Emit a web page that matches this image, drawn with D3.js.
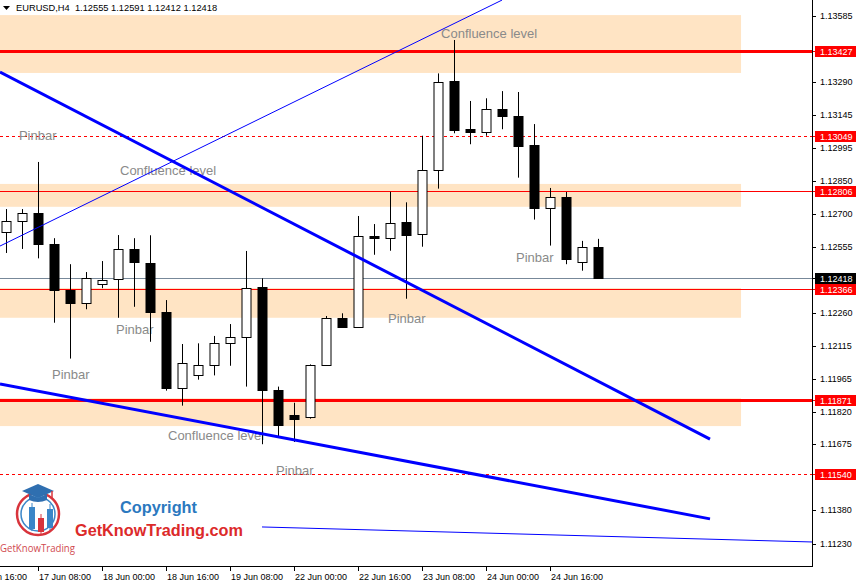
<!DOCTYPE html>
<html><head><meta charset="utf-8">
<script src="https://cdn.jsdelivr.net/npm/d3@7"></script>
<style>html,body{margin:0;padding:0;background:#fff;}svg{display:block;}</style>
</head><body>
<svg id="c" width="858" height="582"></svg>
<script>
// ---- data ----
const symbolInfo = "EURUSD,H4  1.12555 1.12591 1.12412 1.12418";
const opens  = [1.12622,1.12671,1.12708,1.12568,1.12363,1.12304,1.12388,1.12411,1.12545,1.12485,1.12266,1.11925,1.11982,1.12025,1.12125,1.12152,1.12375,1.11917,1.11805,1.11795,1.12028,1.12238,1.12199,1.12605,1.12594,1.12665,1.12611,1.12897,1.13295,1.13080,1.13066,1.13169,1.13139,1.13008,1.12727,1.12778,1.12487,1.12555];
const highs  = [1.12724,1.12724,1.12934,1.12594,1.12478,1.12443,1.12492,1.12608,1.12594,1.12607,1.12318,1.12122,1.12125,1.12158,1.12211,1.12537,1.12415,1.11932,1.11860,1.12031,1.12247,1.12259,1.12693,1.12657,1.12801,1.12754,1.13051,1.13329,1.13478,1.13206,1.13218,1.13250,1.13246,1.13103,1.12818,1.12800,1.12582,1.12591];
const lows   = [1.12528,1.12546,1.12504,1.12217,1.12057,1.12277,1.12371,1.12239,1.12288,1.12132,1.11914,1.11847,1.11963,1.11982,1.12025,1.11932,1.11675,1.11707,1.11685,1.11789,1.12025,1.12194,1.12194,1.12520,1.12538,1.12324,1.12556,1.12815,1.13062,1.13013,1.13051,1.13080,1.12864,1.12677,1.12561,1.12478,1.12449,1.12412];
const closes = [1.12671,1.12708,1.12571,1.12362,1.12304,1.12415,1.12406,1.12545,1.12485,1.12266,1.11929,1.12036,1.12028,1.12125,1.12152,1.12371,1.11914,1.11762,1.11789,1.12028,1.12237,1.12199,1.12604,1.12596,1.12660,1.12605,1.12897,1.13289,1.13078,1.13066,1.13169,1.13136,1.13007,1.12726,1.12776,1.12500,1.12553,1.12418];

const timeLabels = ["16 Jun 16:00","17 Jun 08:00","18 Jun 00:00","18 Jun 16:00","19 Jun 08:00","22 Jun 00:00","22 Jun 16:00","23 Jun 08:00","24 Jun 00:00","24 Jun 16:00"];
const timeLabelBars = [-2,2,6,10,14,18,22,26,30,34];

const priceTicks = [1.13585,1.13290,1.13145,1.12995,1.12850,1.12700,1.12555,1.12260,1.12115,1.11965,1.11820,1.11675,1.11380,1.11230];

// zones: [top price, bottom price]
const zoneTops    = [1.13589,1.12836,1.12372,1.11880];
const zoneBottoms = [1.13331,1.12734,1.12239,1.11756];
const zoneEndBar  = 45.94;

// horizontal levels
const levelPrices = [1.13427,1.13049,1.12806,1.12366,1.11871,1.11540];
const levelKinds  = ["thick","dash","thin","thin","thick","dash"];
const lastPrice = 1.12418;

// trend lines: [bar index, price] pairs
const trendStartBar   = [-0.375,-0.375,-0.375,16];
const trendStartPrice = [1.12559,1.13335,1.11944,1.11306];
const trendEndBar     = [31.0,44,44,50.375];
const trendEndPrice   = [1.13656,1.11698,1.11342,1.11239];
const trendKinds      = ["thin","thick","thick","thin"];

// annotations
const noteTexts  = ["Confluence level","Pinbar","Confluence level","Pinbar","Pinbar","Pinbar","Pinbar","Confluence level","Pinbar"];
const noteBars   = [27.19,0.81,7.125,31.875,6.875,23.875,2.875,10.125,16.875];
const notePrices = [1.13509,1.13050,1.12894,1.12510,1.12185,1.12238,1.11988,1.11716,1.11560];

// ---- layout ----
const W = 858, H = 582;
const plotR = 812, plotB = 566;
const x = d3.scaleLinear().domain([-0.375, 50.375]).range([0, plotR]);
const y = d3.scaleLinear().domain([1.11230, 1.13585]).range([544, 16]);
const fmt = d3.format(".5f");
const svg = d3.select("#c");
const font = "'Liberation Sans', Arial, sans-serif";

svg.append("defs").append("clipPath").attr("id","plot")
  .append("rect").attr("x",0).attr("y",0).attr("width",plotR).attr("height",plotB);
const g = svg.append("g").attr("clip-path","url(#plot)");

// zones
g.selectAll("rect.zone").data(zoneTops).join("rect")
  .attr("x", x(-0.375)).attr("width", x(zoneEndBar) - x(-0.375))
  .attr("y", (d)=>y(d)).attr("height", (d,i)=>y(zoneBottoms[i]) - y(d))
  .attr("fill", "#FFE4C4");

// levels
g.selectAll("line.lvl").data(levelPrices).join("line")
  .attr("x1", 0).attr("x2", plotR)
  .attr("y1", d=>Math.round(y(d))+0.5).attr("y2", d=>Math.round(y(d))+0.5)
  .attr("stroke", "#FF0000")
  .attr("stroke-width", (d,i)=>levelKinds[i]==="thick"?3:1)
  .attr("stroke-dasharray", (d,i)=>levelKinds[i]==="dash"?"3,3":null);

// last price line
g.append("line").attr("x1",0).attr("x2",plotR)
  .attr("y1", Math.round(y(lastPrice))+0.5).attr("y2", Math.round(y(lastPrice))+0.5)
  .attr("stroke","#778899").attr("stroke-width",1);

// annotations
g.selectAll("text.note").data(noteTexts).join("text")
  .attr("x",(d,i)=>x(noteBars[i])).attr("y",(d,i)=>y(notePrices[i]))
  .attr("dominant-baseline","central")
  .attr("font-family", font).attr("font-size", 13).attr("fill","#8a8a8a")
  .text(d=>d);

// candles
const bars = d3.range(opens.length);
const cw = 9;
g.selectAll("line.wick").data(bars).join("line")
  .attr("x1", i=>Math.round(x(i))+0.5).attr("x2", i=>Math.round(x(i))+0.5)
  .attr("y1", i=>y(highs[i])).attr("y2", i=>y(lows[i]))
  .attr("stroke","#000").attr("stroke-width",1);
g.selectAll("rect.body").data(bars).join("rect")
  .attr("x", i=>Math.round(x(i)) - 4 )
  .attr("width", cw)
  .attr("y", i=>Math.round(y(Math.max(opens[i],closes[i])))+0.5)
  .attr("height", i=>Math.max(1, Math.round(Math.abs(y(opens[i])-y(closes[i])))))
  .attr("fill", i=>closes[i]>=opens[i]?"#fff":"#000")
  .attr("stroke","#000").attr("stroke-width",1);

// trend lines
g.selectAll("line.trend").data(trendStartBar).join("line")
  .attr("x1",(d)=>x(d)).attr("y1",(d,i)=>y(trendStartPrice[i]))
  .attr("x2",(d,i)=>x(trendEndBar[i])).attr("y2",(d,i)=>y(trendEndPrice[i]))
  .attr("stroke","#0000FF").attr("stroke-width",(d,i)=>trendKinds[i]==="thick"?3:1);

// axes frame
svg.append("line").attr("x1",plotR+0.5).attr("x2",plotR+0.5).attr("y1",0).attr("y2",plotB+1).attr("stroke","#000");
svg.append("line").attr("x1",0).attr("x2",plotR+1).attr("y1",plotB+0.5).attr("y2",plotB+0.5).attr("stroke","#000");

// price axis
const yAx = svg.append("g");
yAx.selectAll("line").data(priceTicks).join("line")
  .attr("x1",plotR+1).attr("x2",plotR+4)
  .attr("y1",d=>Math.round(y(d))+0.5).attr("y2",d=>Math.round(y(d))+0.5).attr("stroke","#000");
yAx.selectAll("text").data(priceTicks).join("text")
  .attr("x",plotR+8).attr("y",d=>y(d)).attr("dominant-baseline","central")
  .attr("font-family",font).attr("font-size",9).attr("fill","#000").text(d=>fmt(d));

// level label boxes
const boxes = levelPrices.map((p,i)=>({p, fill:"#FF0000"})).concat([{p:lastPrice, fill:"#000"}]);
const bx = svg.append("g");
bx.selectAll("rect").data(boxes).join("rect")
  .attr("x",plotR+3).attr("width",41).attr("y",d=>Math.round(y(d.p))-5).attr("height",11)
  .attr("fill",d=>d.fill);
bx.selectAll("line").data(boxes).join("line")
  .attr("x1",plotR+1).attr("x2",plotR+3)
  .attr("y1",d=>Math.round(y(d.p))+0.5).attr("y2",d=>Math.round(y(d.p))+0.5).attr("stroke",d=>d.fill);
bx.selectAll("text").data(boxes).join("text")
  .attr("x",plotR+8).attr("y",d=>Math.round(y(d.p))+0.5).attr("dominant-baseline","central")
  .attr("font-family",font).attr("font-size",9).attr("fill","#fff").text(d=>fmt(d.p));

// time axis
const tx = svg.append("g");
tx.selectAll("line").data(timeLabelBars).join("line")
  .attr("x1",d=>Math.round(x(d))+0.5).attr("x2",d=>Math.round(x(d))+0.5)
  .attr("y1",plotB+1).attr("y2",plotB+5).attr("stroke","#000");
tx.selectAll("text").data(timeLabels).join("text")
  .attr("x",(d,i)=>x(timeLabelBars[i])+1).attr("y",577).attr("dominant-baseline","central")
  .attr("font-family",font).attr("font-size",9).attr("fill","#000").text(d=>d);

// header
svg.append("path").attr("d","M3,6 L10,6 L6.5,10 Z").attr("fill","#000");
svg.append("text").attr("x",16).attr("y",8).attr("dominant-baseline","central")
  .attr("font-family",font).attr("font-size",9.3).attr("fill","#000")
  .attr("xml:space","preserve").style("white-space","pre").text(symbolInfo);

// logo
const lg = svg.append("g");
lg.append("circle").attr("cx",38).attr("cy",514).attr("r",21).attr("fill","none").attr("stroke","#d8343c").attr("stroke-width",2.5);
lg.append("circle").attr("cx",38).attr("cy",514).attr("r",17).attr("fill","#fff").attr("stroke","#3a86c8").attr("stroke-width",1.5);
lg.append("path").attr("d","M22,491 L38,484 L54,491 L38,498 Z").attr("fill","#2f6fb0");
lg.append("path").attr("d","M29,494 L29,500 Q38,504 47,500 L47,494 L38,498 Z").attr("fill","#2f6fb0");
lg.append("line").attr("x1",52).attr("x2",52).attr("y1",491).attr("y2",499).attr("stroke","#d8343c").attr("stroke-width",1.5);
lg.append("line").attr("x1",32).attr("x2",32).attr("y1",503).attr("y2",531).attr("stroke","#3a86c8").attr("stroke-width",1);
lg.append("rect").attr("x",29).attr("y",507).attr("width",6).attr("height",22).attr("fill","#3a86c8");
lg.append("line").attr("x1",41).attr("x2",41).attr("y1",514).attr("y2",535).attr("stroke","#d8343c").attr("stroke-width",1);
lg.append("rect").attr("x",38).attr("y",518).attr("width",6).attr("height",14).attr("fill","#d8343c");
lg.append("line").attr("x1",50).attr("x2",50).attr("y1",504).attr("y2",530).attr("stroke","#3a86c8").attr("stroke-width",1);
lg.append("rect").attr("x",47).attr("y",509).attr("width",6).attr("height",19).attr("fill","#3a86c8");
lg.append("text").attr("x",0).attr("y",548).attr("dominant-baseline","central")
  .attr("font-family","'Open Sans', sans-serif").attr("font-size",10).attr("fill","#d14a4f")
  .attr("textLength",75).attr("lengthAdjust","spacingAndGlyphs").text("GetKnowTrading");
lg.append("text").attr("x",120).attr("y",507).attr("dominant-baseline","central")
  .attr("font-family",font).attr("font-weight","bold").attr("font-size",17).attr("fill","#2b79bf")
  .attr("textLength",77).attr("lengthAdjust","spacingAndGlyphs").text("Copyright");
lg.append("text").attr("x",75).attr("y",530).attr("dominant-baseline","central")
  .attr("font-family",font).attr("font-weight","bold").attr("font-size",17).attr("fill","#dc2a2a")
  .attr("textLength",168).attr("lengthAdjust","spacingAndGlyphs").text("GetKnowTrading.com");
</script>
</body></html>
